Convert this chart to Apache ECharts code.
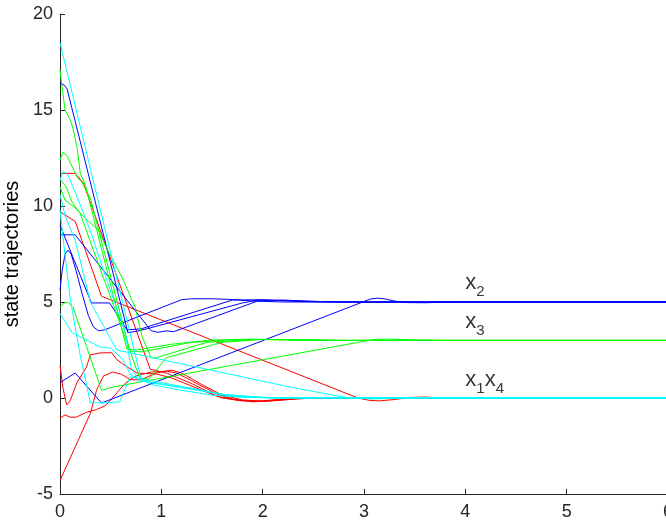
<!DOCTYPE html>
<html>
<head>
<meta charset="utf-8">
<script src="https://cdn.jsdelivr.net/npm/echarts@6/dist/echarts.min.js"></script>
<style>
html,body{margin:0;padding:0;background:#fff;}
#chart{width:666px;height:524px;}
</style>
</head>
<body>
<div id="chart"></div>
<script>
// ---- axis ticks ----
const xTicks = [0, 1, 2, 3, 4, 5, 6];
const yTicks = [-5, 0, 5, 10, 15, 20];
const yAxisName = 'state trajectories';

// ---- state x1 (red) trajectories, [time, value] ----
const red1 = [[0,11.7],[0.15,11.7],[0.23,11.2],[0.89,1.5],[1.05,1.3],[1.3,0.75],[1.55,0.1],[1.75,-0.12],[1.95,-0.18],[2.15,-0.1],[2.4,0],[6,0]];
const red2 = [[0,9.7],[0.15,9.2],[0.41,5.3],[2.94,0],[3.05,-0.12],[3.15,-0.15],[3.3,-0.08],[3.45,0.03],[3.6,0.05],[3.8,0],[6,0]];
const red3 = [[0,1.7],[0.03,0.5],[0.066,-0.36],[0.1,-0.15],[0.165,0.78],[0.26,1.6],[0.3,2.25],[0.4,2.35],[0.51,2.36],[0.56,2.0],[0.66,1.63],[0.76,1.3],[0.95,1.25],[1.1,1.05],[1.4,0.4],[1.6,0.0],[1.8,-0.15],[2.0,-0.15],[2.2,-0.05],[2.5,0],[6,0]];
const red4 = [[0,-1.05],[0.05,-0.88],[0.1,-1.0],[0.16,-1.0],[0.26,-0.75],[0.36,-0.6],[0.45,-0.4],[0.55,0.2],[0.65,0.8],[0.75,1.15],[0.9,1.35],[1.05,1.4],[1.15,1.3],[1.3,0.9],[1.55,0.2],[1.7,-0.05],[1.9,-0.2],[2.1,-0.15],[2.4,0],[6,0]];
const red5 = [[0,-4.3],[0.3,-0.8],[0.36,0.4],[0.43,1.15],[0.52,1.35],[0.6,1.25],[0.7,0.95],[0.8,0.95],[0.95,1.3],[1.1,1.45],[1.2,1.3],[1.4,0.7],[1.6,0.15],[1.8,-0.1],[2.0,-0.17],[2.2,-0.1],[2.5,0],[6,0]];

// ---- state x2 (blue) trajectories ----
const blue1 = [[0,16.4],[0.04,16.3],[0.07,16.1],[0.67,3.4],[0.78,3.5],[0.89,3.65],[1.8,4.95],[1.95,5.1],[2.2,5.08],[2.5,5.02],[2.8,5.0],[6,5]];
const blue2 = [[0,8.5],[0.15,8.5],[0.9,3.5],[0.97,3.42],[1.05,3.5],[1.12,3.45],[1.95,5.05],[2.2,5.1],[2.6,5.02],[3.0,5.0],[6,5]];
const blue3 = [[0,9.0],[0.31,4.95],[0.49,4.95],[0.66,3.55],[0.8,3.6],[1.7,5.1],[2.0,5.12],[2.4,5.02],[2.8,5.0],[6,5]];
const blue4 = [[0,5.6],[0.02,6.6],[0.05,7.5],[0.08,7.7],[0.11,7.5],[0.16,6.6],[0.22,5.4],[0.28,4.3],[0.33,3.7],[0.38,3.5],[0.44,3.55],[1.2,5.12],[1.3,5.17],[1.5,5.17],[1.7,5.13],[1.9,5.05],[2.2,5.0],[6,5]];
const blue5 = [[0,0.8],[0.15,1.3],[0.41,-0.26],[3.06,5.15],[3.13,5.2],[3.2,5.17],[3.3,5.05],[3.42,4.97],[3.6,4.96],[3.8,4.99],[4.0,5.0],[6,5]];

// ---- state x3 (green) trajectories ----
const green1 = [[0,17.1],[0.02,16.2],[0.05,15.0],[0.1,14.5],[0.13,14.0],[0.17,13.0],[0.2,11.7],[0.25,11.1],[0.66,2.55],[0.75,2.5],[1.1,2.8],[1.5,3.02],[1.9,3.06],[2.4,3.02],[2.8,3.0],[6,3]];
const green2 = [[0,12.4],[0.03,12.8],[0.07,12.6],[0.17,11.5],[0.22,11.2],[0.3,10.4],[0.69,2.45],[0.8,2.4],[1.3,2.9],[1.7,3.05],[2.2,3.05],[2.7,3.0],[6,3]];
const green3 = [[0,11.0],[0.05,10.3],[0.15,9.9],[0.28,9.2],[0.38,8.75],[0.47,7.7],[0.61,6.3],[0.74,4.75],[0.81,3.2],[0.9,2.1],[0.95,2.1],[1.45,2.9],[1.9,3.05],[2.4,3.02],[2.8,3.0],[6,3]];
const green4 = [[0,11.4],[0.06,11.0],[0.12,10.2],[0.2,9.6],[0.79,1.0],[0.88,1.0],[1.05,2.1],[1.6,2.9],[2.0,3.05],[2.5,3.0],[6,3]];
const green5 = [[0,4.7],[0.04,4.95],[0.08,5.0],[0.13,4.7],[0.41,0.4],[0.5,0.55],[3.1,3.05],[3.25,3.07],[3.5,3.02],[3.8,3.0],[6,3]];

// ---- state x4 (cyan) trajectories ----
const cyan1 = [[0,18.5],[0.8,1.0],[0.9,0.7],[1.2,0.4],[1.5,0.15],[1.8,0.03],[2.2,0],[6,0]];
const cyan2 = [[0,11.35],[0.03,11.8],[0.08,11.6],[0.15,10.7],[0.22,9.8],[0.32,8.4],[0.45,6.3],[0.54,4.95],[0.64,3.5],[0.7,1.6],[0.78,0.9],[0.9,0.8],[1.3,0.45],[1.7,0.1],[2.1,0],[6,0]];
const cyan3 = [[0,10.6],[0.05,9.5],[0.15,8.2],[0.3,5.0],[0.56,2.5],[2.27,0.57],[2.85,0.0],[3.1,-0.05],[3.4,0],[6,0]];
const cyan4 = [[0,4.4],[0.12,3.4],[0.4,2.65],[0.5,2.6],[0.62,2.0],[0.7,1.2],[0.8,0.9],[1.2,0.55],[1.6,0.2],[2.0,0.03],[6,0]];
const cyan5 = [[0,9.8],[0.05,7.4],[0.1,5.2],[0.2,2.2],[0.3,-0.25],[0.45,-0.25],[0.59,-0.2],[0.69,1.1],[0.8,1.0],[1.2,0.6],[1.7,0.1],[2.2,0],[6,0]];

// ---- annotation labels: [time, value] anchor, subscripts ----
const labelTexts = [['x', '2'], ['x', '3'], ['x', '1', 'x', '4']];
const labelPos = [[4.0, 5.16], [4.0, 3.12], [4.0, 0.10]];

const groups = [
  {color: '#ff0000', lines: [red1, red2, red3, red4, red5]},
  {color: '#0000ff', lines: [blue1, blue2, blue3, blue4, blue5]},
  {color: '#00ff00', lines: [green1, green2, green3, green4, green5]},
  {color: '#00ffff', lines: [cyan1, cyan2, cyan3, cyan4, cyan5]}
];

const FONT = "'Liberation Sans', Arial, Helvetica, sans-serif";
const AX = '#262626';

const series = [];
groups.forEach(g => {
  g.lines.forEach(d => {
    series.push({
      type: 'line', data: d, showSymbol: false, symbol: 'none',
      lineStyle: {color: g.color, width: 1}, silent: true, z: 2
    });
  });
});

function fmtLabel(parts) {
  let s = '';
  for (let i = 0; i < parts.length; i += 2) {
    s += '{b|' + parts[i] + '}{s|' + parts[i + 1] + '}';
  }
  return s;
}

series.push({
  type: 'scatter', symbolSize: 0, silent: true, z: 5,
  data: labelPos.map((p, i) => ({value: p, txt: labelTexts[i]})),
  label: {
    show: true, position: [0, 0], align: 'left', verticalAlign: 'bottom',
    formatter: p => fmtLabel(p.data.txt),
    rich: {
      b: {fontSize: 22, fontFamily: FONT, color: '#000', lineHeight: 22, verticalAlign: 'top'},
      s: {fontSize: 15, fontFamily: FONT, color: '#000', lineHeight: 27, verticalAlign: 'bottom'}
    }
  }
});

const chart = echarts.init(document.getElementById('chart'), null, {renderer: 'canvas', width: 666, height: 524});
chart.setOption({
  animation: false,
  backgroundColor: '#fff',
  grid: {left: 60, right: -2, top: 14, bottom: 30, containLabel: false, outerBoundsMode: 'none'},
  xAxis: {
    type: 'value', min: xTicks[0], max: xTicks[xTicks.length - 1], interval: 1,
    axisLine: {show: true, onZero: false, lineStyle: {color: AX, width: 1}},
    axisTick: {show: true, inside: true, length: 5, lineStyle: {color: AX}},
    splitLine: {show: false},
    axisLabel: {color: AX, fontSize: 18, fontFamily: FONT, margin: 9}
  },
  yAxis: {
    type: 'value', min: yTicks[0], max: yTicks[yTicks.length - 1], interval: 5,
    name: yAxisName, nameLocation: 'middle', nameGap: 30,
    nameTextStyle: {color: '#000', fontSize: 20, fontFamily: FONT},
    axisLine: {show: true, onZero: false, lineStyle: {color: AX, width: 1}},
    axisTick: {show: true, inside: true, length: 5, lineStyle: {color: AX}},
    splitLine: {show: false},
    axisLabel: {color: AX, fontSize: 18, fontFamily: FONT, margin: 7}
  },
  series: series
});
</script>
</body>
</html>
